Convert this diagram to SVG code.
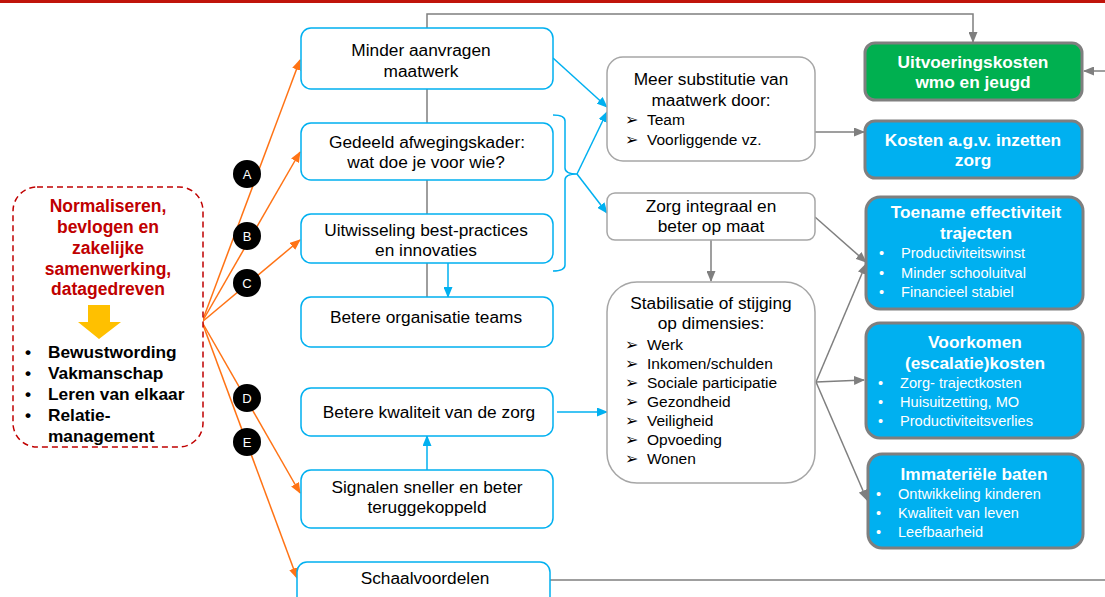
<svg xmlns="http://www.w3.org/2000/svg" width="1105" height="597" viewBox="0 0 1105 597">
<defs>
<style>
text{font-family:"Liberation Sans",Arial,sans-serif;}
.t{font-size:17.3px;fill:#000;text-anchor:middle;}
.li{font-size:15.5px;fill:#000;}
.ar{font-family:"DejaVu Sans",sans-serif;font-size:16px;fill:#000;}
.bt{font-size:17.3px;font-weight:bold;fill:#fff;text-anchor:middle;}
.wb{font-size:14.6px;fill:#fff;}
.red{font-size:17.5px;font-weight:bold;fill:#C00000;text-anchor:middle;}
.lb{font-size:17.3px;font-weight:bold;fill:#000;}
.mid{fill:#fff;stroke:#00B0F0;stroke-width:1.5;}
.gbox{fill:#fff;stroke:#A6A6A6;stroke-width:1.5;}
.rbox{stroke:#7F7F7F;stroke-width:3;}
.ob{stroke:#FF7315;stroke-width:1.5;fill:none;marker-end:url(#mo);}
.bl{stroke:#00B0F0;stroke-width:1.5;fill:none;}
.gr{stroke:#7F7F7F;stroke-width:1.5;fill:none;}
.circ{fill:#000;}
.cl{font-size:13px;fill:#fff;text-anchor:middle;}
</style>
<marker id="mo" markerUnits="userSpaceOnUse" markerWidth="11" markerHeight="9" refX="10" refY="4.5" orient="auto"><path d="M0,0 L11,4.5 L0,9 z" fill="#FF7315"/></marker>
<marker id="mb" markerUnits="userSpaceOnUse" markerWidth="11" markerHeight="9" refX="10" refY="4.5" orient="auto"><path d="M0,0 L11,4.5 L0,9 z" fill="#00B0F0"/></marker>
<marker id="mg" markerUnits="userSpaceOnUse" markerWidth="11" markerHeight="9" refX="10" refY="4.5" orient="auto"><path d="M0,0 L11,4.5 L0,9 z" fill="#7F7F7F"/></marker>
</defs>
<rect x="0" y="0" width="1105" height="597" fill="#fff"/>
<rect x="0" y="0" width="1105" height="3" fill="#C0140A"/>

<g id="connectors">
<path class="gr" d="M427,297 L427,14 L973,14 L973,42" marker-end="url(#mg)"/>
<path class="gr" d="M1105,71 L1084,71" marker-end="url(#mg)"/>
<path class="gr" d="M550,580 L1105,580"/>
<path class="gr" d="M815,132 L864,132" marker-end="url(#mg)"/>
<path class="gr" d="M815,217 L866,262" marker-end="url(#mg)"/>
<path class="gr" d="M711,240 L711,281" marker-end="url(#mg)"/>
<path class="gr" d="M816,382 L866,264" marker-end="url(#mg)"/>
<path class="gr" d="M816,382 L864,380" marker-end="url(#mg)"/>
<path class="gr" d="M816,382 L867,500" marker-end="url(#mg)"/>
<path class="bl" d="M553,58 L607,107" marker-end="url(#mb)"/>
<path class="bl" d="M553,115 Q565,115 565,121 L565,168 Q565,174 577,174 Q565,174 565,180 L565,265 Q565,271 553,271"/>
<path class="bl" d="M577,174 L607,112" marker-end="url(#mb)"/>
<path class="bl" d="M577,174 L607,213" marker-end="url(#mb)"/>
<path class="bl" d="M448,263 L448,297" marker-end="url(#mb)"/>
<path class="bl" d="M427,470 L427,436" marker-end="url(#mb)"/>
<path class="bl" d="M557,412 L607,412" marker-end="url(#mb)"/>
<path class="ob" d="M202,322 L300,60"/>
<path class="ob" d="M202,322 L300,152"/>
<path class="ob" d="M202,322 L300,240"/>
<path class="ob" d="M202,322 L300,493"/>
<path class="ob" d="M202,322 L297,578"/>
</g>

<g id="source">
<rect x="13" y="187" width="190" height="260" rx="24" fill="#fff" stroke="#C00000" stroke-width="1.5" stroke-dasharray="6,4"/>
<text class="red" x="108" y="212">Normaliseren,</text>
<text class="red" x="108" y="233">bevlogen en</text>
<text class="red" x="108" y="254">zakelijke</text>
<text class="red" x="108" y="275">samenwerking,</text>
<text class="red" x="108" y="295">datagedreven</text>
<path d="M88,305 L110,305 L110,322 L121,322 L99,339 L78,322 L88,322 z" fill="#FFC000"/>
<text class="lb" x="25" y="358">•</text><text class="lb" x="48" y="358">Bewustwording</text>
<text class="lb" x="25" y="379">•</text><text class="lb" x="48" y="379">Vakmanschap</text>
<text class="lb" x="25" y="400">•</text><text class="lb" x="48" y="400">Leren van elkaar</text>
<text class="lb" x="25" y="421">•</text><text class="lb" x="48" y="421">Relatie-</text>
<text class="lb" x="48" y="442">management</text>
</g>

<g id="labelA"><circle class="circ" cx="247" cy="174" r="14"/><text class="cl" x="247" y="179">A</text></g>
<g id="labelB"><circle class="circ" cx="247" cy="236" r="14"/><text class="cl" x="247" y="241">B</text></g>
<g id="labelC"><circle class="circ" cx="247" cy="283" r="14"/><text class="cl" x="247" y="288">C</text></g>
<g id="labelD"><circle class="circ" cx="247" cy="398" r="14"/><text class="cl" x="247" y="403">D</text></g>
<g id="labelE"><circle class="circ" cx="247" cy="442" r="14"/><text class="cl" x="247" y="447">E</text></g>

<g id="minder"><rect class="mid" x="301" y="28" width="252" height="61" rx="10"/>
<text class="t" x="421" y="56">Minder aanvragen</text><text class="t" x="421" y="77">maatwerk</text></g>
<g id="gedeeld"><rect class="mid" x="301" y="123" width="252" height="57" rx="10"/>
<text class="t" x="427" y="148">Gedeeld afwegingskader:</text><text class="t" x="426" y="168">wat doe je voor wie?</text></g>
<g id="uitwisseling"><rect class="mid" x="301" y="214" width="252" height="49" rx="10"/>
<text class="t" x="426" y="236">Uitwisseling best-practices</text><text class="t" x="426" y="256">en innovaties</text></g>
<g id="organisatie"><rect class="mid" x="301" y="297" width="252" height="50" rx="10"/>
<text class="t" x="426" y="323">Betere organisatie teams</text></g>
<g id="kwaliteit"><rect class="mid" x="301" y="388" width="252" height="48" rx="10"/>
<text class="t" x="429" y="418">Betere kwaliteit van de zorg</text></g>
<g id="signalen"><rect class="mid" x="301" y="470" width="252" height="58" rx="10"/>
<text class="t" x="427" y="493">Signalen sneller en beter</text><text class="t" x="427" y="513">teruggekoppeld</text></g>
<g id="schaal"><rect class="mid" x="297" y="562" width="253" height="45" rx="10"/>
<text class="t" x="425" y="584">Schaalvoordelen</text></g>

<g id="substitutie"><rect class="gbox" x="607" y="57" width="208" height="104" rx="16"/>
<text class="t" x="711" y="85">Meer substitutie van</text><text class="t" x="711" y="106">maatwerk door:</text>
<text class="ar" x="625" y="125">➢</text><text class="li" x="647" y="125">Team</text>
<text class="ar" x="625" y="145">➢</text><text class="li" x="647" y="145">Voorliggende vz.</text></g>
<g id="integraal"><rect class="gbox" x="607" y="193" width="208" height="47" rx="8"/>
<text class="t" x="711" y="212">Zorg integraal en</text><text class="t" x="711" y="232">beter op maat</text></g>
<g id="stabilisatie"><rect class="gbox" x="607" y="282" width="208" height="201" rx="30"/>
<text class="t" x="711" y="309">Stabilisatie of stijging</text><text class="t" x="711" y="329">op dimensies:</text>
<text class="ar" x="625" y="350">➢</text><text class="li" x="647" y="350">Werk</text>
<text class="ar" x="625" y="369">➢</text><text class="li" x="647" y="369">Inkomen/schulden</text>
<text class="ar" x="625" y="388">➢</text><text class="li" x="647" y="388">Sociale participatie</text>
<text class="ar" x="625" y="407">➢</text><text class="li" x="647" y="407">Gezondheid</text>
<text class="ar" x="625" y="426">➢</text><text class="li" x="647" y="426">Veiligheid</text>
<text class="ar" x="625" y="445">➢</text><text class="li" x="647" y="445">Opvoeding</text>
<text class="ar" x="625" y="464">➢</text><text class="li" x="647" y="464">Wonen</text></g>

<g id="uitvoering"><rect class="rbox" x="865" y="43" width="217" height="57" rx="10" fill="#00B050"/>
<text class="bt" x="973" y="68">Uitvoeringskosten</text><text class="bt" x="973" y="88">wmo en jeugd</text></g>
<g id="kosten"><rect class="rbox" x="865" y="121" width="217" height="57" rx="10" fill="#00B0F0"/>
<text class="bt" x="973" y="146">Kosten a.g.v. inzetten</text><text class="bt" x="973" y="166">zorg</text></g>
<g id="toename"><rect class="rbox" x="866" y="197" width="217" height="112" rx="14" fill="#00B0F0"/>
<text class="bt" x="976" y="218">Toename effectiviteit</text><text class="bt" x="976" y="239">trajecten</text>
<text class="wb" x="879" y="258">•</text><text class="wb" x="901" y="258">Productiviteitswinst</text>
<text class="wb" x="879" y="278">•</text><text class="wb" x="901" y="278">Minder schooluitval</text>
<text class="wb" x="879" y="297">•</text><text class="wb" x="901" y="297">Financieel stabiel</text></g>
<g id="voorkomen"><rect class="rbox" x="866" y="323" width="217" height="115" rx="14" fill="#00B0F0"/>
<text class="bt" x="975" y="348">Voorkomen</text><text class="bt" x="975" y="369">(escalatie)kosten</text>
<text class="wb" x="878" y="388">•</text><text class="wb" x="900" y="388">Zorg- trajectkosten</text>
<text class="wb" x="878" y="407">•</text><text class="wb" x="900" y="407">Huisuitzetting, MO</text>
<text class="wb" x="878" y="426">•</text><text class="wb" x="900" y="426">Productiviteitsverlies</text></g>
<g id="immaterieel"><rect class="rbox" x="868" y="454" width="215" height="94" rx="14" fill="#00B0F0"/>
<text class="bt" x="974" y="480">Immateriële baten</text>
<text class="wb" x="876" y="499">•</text><text class="wb" x="898" y="499">Ontwikkeling kinderen</text>
<text class="wb" x="876" y="518">•</text><text class="wb" x="898" y="518">Kwaliteit van leven</text>
<text class="wb" x="876" y="537">•</text><text class="wb" x="898" y="537">Leefbaarheid</text></g>
</svg>
